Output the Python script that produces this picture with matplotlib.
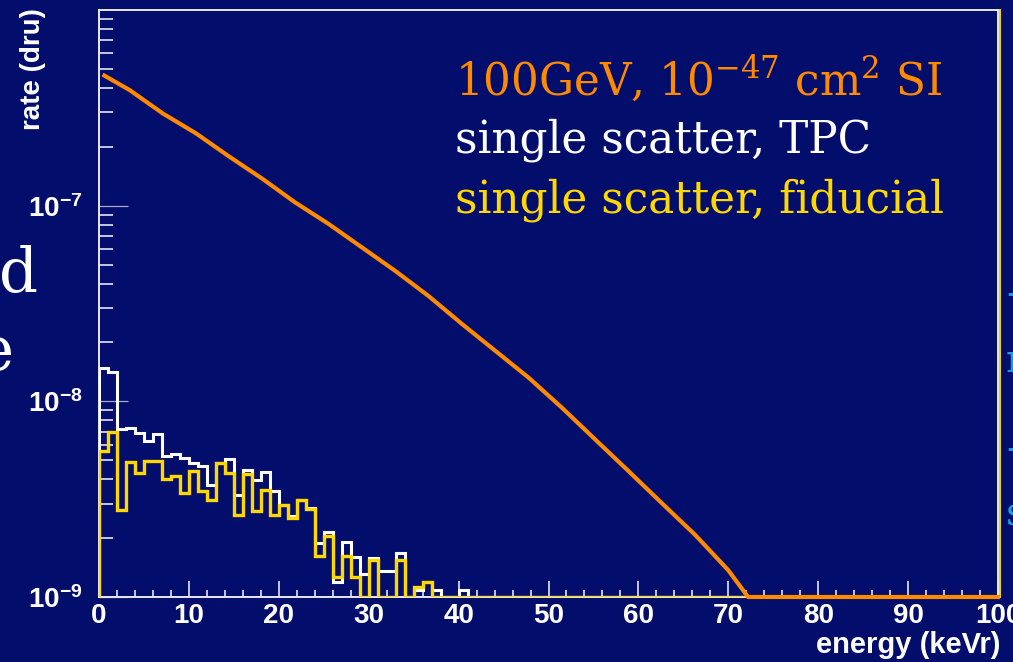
import matplotlib
matplotlib.use("Agg")
import matplotlib.pyplot as plt
import numpy as np
from matplotlib.ticker import FixedLocator, LogLocator, NullFormatter

# WIMP recoil spectrum (orange curve), keVr vs dru
wimp_energy = [0.6, 3.4, 7.1, 10.8, 14.5, 18.2, 21.8, 25.5, 29.2, 32.9, 36.6,
               40.4, 44.1, 47.8, 51.5, 55.2, 58.9, 62.6, 66.3, 70.0, 72.2, 100.0]
wimp_rate = [4.62e-7, 3.90e-7, 2.96e-7, 2.34e-7, 1.78e-7, 1.37e-7, 1.04e-7,
             8.09e-8, 6.14e-8, 4.66e-8, 3.47e-8, 2.48e-8, 1.81e-8, 1.32e-8,
             9.27e-9, 6.38e-9, 4.40e-9, 3.02e-9, 2.08e-9, 1.37e-9, 1.0e-9, 1.0e-9]

# single scatter background, 1 keV bins starting at 0 (bins above 42 keV are empty)
tpc_rate = [1.48e-8, 1.42e-8, 7.2e-9, 7.3e-9, 6.85e-9, 6.26e-9, 6.8e-9, 5.25e-9,
            5.4e-9, 5.14e-9, 4.85e-9, 4.66e-9, 3.75e-9, 4.85e-9, 5.1e-9, 3.33e-9,
            4.48e-9, 3.98e-9, 4.34e-9, 3.47e-9, 2.96e-9, 2.58e-9, 3.14e-9, 2.85e-9,
            1.88e-9, 2.14e-9, 1.19e-9, 1.9e-9, 1.61e-9, 1.31e-9, 1.58e-9, 1.35e-9,
            1.35e-9, 1.67e-9, 0, 1.09e-9, 1.2e-9, 1.09e-9, 0, 0, 1.09e-9, 0]
fid_rate = [5.56e-9, 6.96e-9, 2.79e-9, 4.89e-9, 4.31e-9, 4.94e-9, 4.94e-9, 4.01e-9,
            4.17e-9, 3.4e-9, 4.39e-9, 3.47e-9, 3.14e-9, 4.85e-9, 4.31e-9, 2.63e-9,
            4.27e-9, 2.74e-9, 3.54e-9, 2.63e-9, 2.96e-9, 2.53e-9, 3.14e-9, 2.82e-9,
            1.62e-9, 2.04e-9, 1.27e-9, 1.62e-9, 1.27e-9, 0, 1.55e-9, 0,
            0, 1.55e-9, 0, 1.13e-9, 1.2e-9, 0, 0, 0, 0, 0]

x_ticks = [0, 10, 20, 30, 40, 50, 60, 70, 80, 90, 100]
y_ticks = [1e-9, 1e-8, 1e-7]
y_tick_labels = [r"$10^{-9}$", r"$10^{-8}$", r"$10^{-7}$"]

BG = "#030d6c"
ORANGE = "#ff8a00"
YELLOW = "#ffd800"
WHITE = "#ffffff"
YMIN, YMAX = 1e-9, 1e-6

plt.rcParams["font.family"] = ["Liberation Sans", "DejaVu Sans"]
plt.rcParams["font.weight"] = "bold"
plt.rcParams["mathtext.default"] = "regular"

W, H = 1013, 662
fig = plt.figure(figsize=(W / 100, H / 100), dpi=100)
fig.patch.set_facecolor(BG)
ax = fig.add_axes([99 / W, 1 - 597 / H, (998 - 99) / W, (597 - 10) / H])
ax.set_facecolor("none")

edges = np.arange(101)
def full_bins(vals):
    v = np.zeros(100)
    v[:len(vals)] = vals
    return np.where(v > 0, v, YMIN)

ax.stairs(full_bins(tpc_rate), edges, baseline=YMIN, color=WHITE, lw=2.2, zorder=3)
ax.stairs(full_bins(fid_rate), edges, baseline=YMIN, color=YELLOW, lw=2.4, zorder=4)
ax.plot(wimp_energy, wimp_rate, color=ORANGE, lw=3.0, zorder=5, clip_on=False,
        solid_joinstyle="round")
# closing edge of the fiducial histogram on the right
ax.axvline(100.25, color=YELLOW, lw=1.4, clip_on=False, zorder=2)

ax.set_yscale("log")
ax.set_xlim(0, 100)
ax.set_ylim(YMIN, YMAX)

ax.xaxis.set_major_locator(FixedLocator(x_ticks))
ax.xaxis.set_minor_locator(FixedLocator(np.arange(0, 101, 2)))
ax.set_xticklabels([str(t) for t in x_ticks])
ax.yaxis.set_major_locator(FixedLocator(y_ticks))
ax.yaxis.set_minor_locator(LogLocator(base=10, subs=np.arange(2, 10), numticks=20))
ax.yaxis.set_minor_formatter(NullFormatter())
ax.set_yticklabels(y_tick_labels)

ax.tick_params(axis="both", which="both", direction="in", colors="#e6e6f0",
               labelcolor=WHITE, labelsize=20, top=False, right=False)
ax.tick_params(axis="y", which="major", length=21, width=0.9, color="#a8a8c4", pad=12)
ax.tick_params(axis="y", which="minor", length=10, width=1.2)
ax.tick_params(axis="x", which="major", length=11.5, width=1.2, pad=4)
ax.tick_params(axis="x", which="minor", length=5, width=1.2)
for s in ax.spines.values():
    s.set_color("#e8e8f0")
    s.set_linewidth(1.4)

fig.text(33 / W, 1 - 8 / H, "rate (dru)", rotation=90, ha="center", va="top",
         color=WHITE, fontsize=20)
fig.text(1000 / W, 1 - 645 / H, "energy (keVr)", ha="right", va="center",
         color=WHITE, fontsize=21)

serif = dict(family="DejaVu Serif", weight="normal", fontsize=31.5, va="baseline")
fig.text(455 / W, 1 - 95 / H, r"100GeV, $10^{-47}$ cm$^{2}$ SI", color=ORANGE, **serif)
fig.text(455 / W, 1 - 153 / H, "single scatter, TPC", color=WHITE, **serif)
fig.text(455 / W, 1 - 213 / H, "single scatter, fiducial", color=YELLOW, **serif)

# bits of the surrounding slide text at the edges
fig.text(38 / W, 1 - 292 / H, "d", ha="right", va="baseline", color=WHITE,
         family="DejaVu Serif", weight="normal", fontsize=44)
fig.text(14 / W, 1 - 370 / H, "e", ha="right", va="baseline", color=WHITE,
         family="DejaVu Serif", weight="normal", fontsize=44)
for y, ch in [(305, "-"), (372, "r"), (460, "-"), (525, "s")]:
    fig.text(1006 / W, 1 - y / H, ch, ha="left", va="baseline", color="#1f9be0",
             family="DejaVu Serif", weight="normal", fontsize=28)

fig.savefig("out.png", dpi=100, facecolor=BG)
